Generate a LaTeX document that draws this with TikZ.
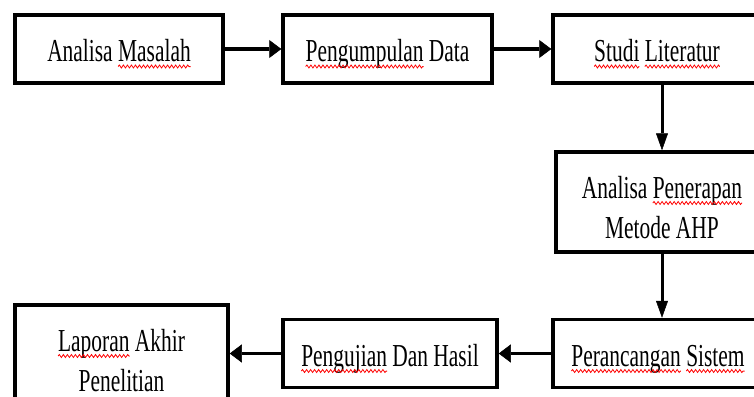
\documentclass[tikz,border=0pt]{standalone}
\usepackage{fontspec}
\setmainfont{Liberation Serif}
\usepackage{graphicx}
\usetikzlibrary{arrows.meta,decorations.pathmorphing}
\newcommand\redwave[1]{\tikz[baseline=(w.base)]{\node[inner sep=0pt, outer sep=0pt, minimum width=0pt, minimum height=0pt, text height=, text depth=, draw=none] (w) {#1};
  \draw[overlay, red, line width=1pt, decorate, decoration={snake, amplitude=1.5pt, segment length=6pt}] ([yshift=-5pt]w.base west) -- ([yshift=-5pt]w.base east);}}
\newcommand\nar[1]{\scalebox{0.67}[1]{#1}}
\tikzset{
  box/.style={draw, line width=3.5pt, inner sep=0pt, minimum height=68pt,
    font=\fontsize{32}{40}\selectfont, text height=25pt, text depth=0pt},
  tallbox/.style={box, minimum height=100pt, text height=22pt, text depth=30pt},
  harrow/.style={line width=3.5pt, -{Triangle[length=12pt,width=18pt,line width=0.5pt]}},
  varrow/.style={line width=3pt, -{Triangle[length=17pt,width=12pt,line width=0.5pt]}}
}
\begin{document}
\begin{tikzpicture}
\useasboundingbox (0,0) rectangle (754pt,-396pt);
\node[box, minimum width=208pt] (b1) at (119pt,-49pt) {\nar{Analisa \redwave{Masalah}}};
\node[box, minimum width=209pt] (b2) at (387.5pt,-49pt) {\nar{\redwave{Pengumpulan} Data}};
\node[box, minimum width=208pt] (b3) at (657pt,-49pt) {\nar{\redwave{Studi} \redwave{Literatur}}};
\node[tallbox, minimum width=212pt] (b4) at (662pt,-202pt) {\nar{\begin{tabular}[t]{@{}c@{}}Analisa \redwave{Penerapan}\\Metode AHP\end{tabular}}};
\node[box, minimum width=210pt] (b5) at (658pt,-353.5pt) {\nar{\redwave{Perancangan} \redwave{Sistem}}};
\node[box, minimum width=214pt] (b6) at (390pt,-353.5pt) {\nar{\redwave{Pengujian} Dan Hasil}};
\node[tallbox, minimum width=213pt] (b7) at (121.5pt,-355pt) {\nar{\begin{tabular}[t]{@{}c@{}}\redwave{Laporan} Akhir\\Penelitian\end{tabular}}};
\draw[harrow] (b1) -- (b2);
\draw[harrow] (b2) -- (b3);
\draw[varrow] (b4.north |- b3.south) -- (b4.north);
\draw[varrow] (b4.south) -- (b4.south |- b5.north);
\draw[harrow] (b5) -- (b6);
\draw[harrow] (b6.west) -- (b6.west -| b7.east);
\end{tikzpicture}
\end{document}
